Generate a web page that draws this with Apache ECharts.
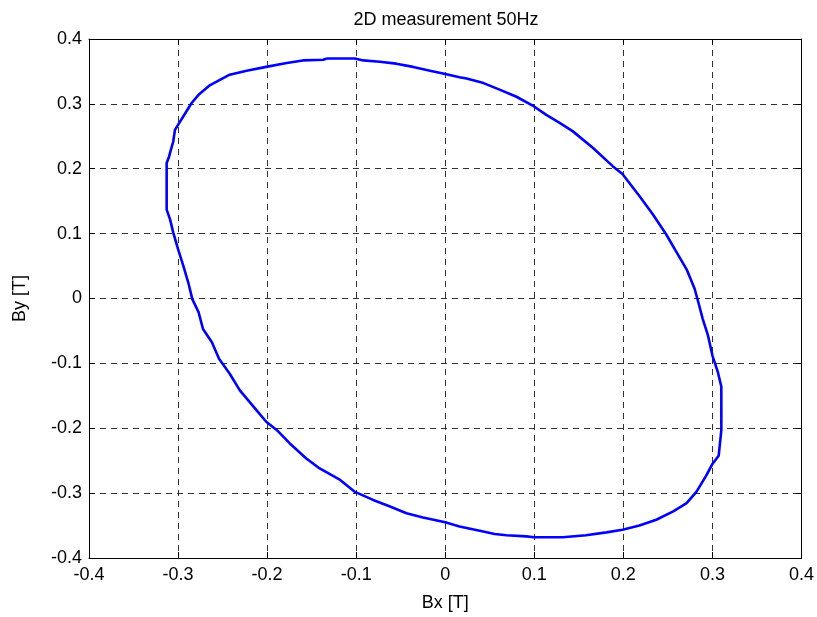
<!DOCTYPE html>
<html>
<head>
<meta charset="utf-8">
<title>2D measurement 50Hz</title>
<script src="https://cdn.jsdelivr.net/npm/echarts@6/dist/echarts.min.js"></script>
<style>
  html, body { margin: 0; padding: 0; background: #fff; }
  #chart { width: 817px; height: 617px; }
</style>
</head>
<body>
<div id="chart"></div>
<script>
// Measured flux density locus, Bx / By in tesla (one closed loop, clockwise from the top)
const bx = [
  -0.133, -0.1015, -0.092, -0.0735, -0.055, -0.036, -0.017, 0.000, 0.016, 0.024,
  0.043, 0.061, 0.080, 0.0997, 0.1135, 0.128, 0.143, 0.166, 0.188, 0.199,
  0.218, 0.233, 0.248, 0.259, 0.271, 0.280, 0.285, 0.289, 0.295, 0.300,
  0.306, 0.310, 0.310, 0.307, 0.300, 0.293, 0.282, 0.271, 0.256, 0.237,
  0.218, 0.199, 0.181, 0.158, 0.132, 0.0997, 0.091, 0.0687, 0.0555, 0.0387,
  0.016, 0.000, -0.025, -0.0435, -0.062, -0.081, -0.102, -0.118, -0.141, -0.156,
  -0.1745, -0.189, -0.201, -0.212, -0.2306, -0.242, -0.254, -0.262, -0.272, -0.277,
  -0.284, -0.2886, -0.294, -0.300, -0.3054, -0.309, -0.3128, -0.3128, -0.310, -0.309,
  -0.3054, -0.3035, -0.294, -0.285, -0.277, -0.264, -0.242, -0.223, -0.201, -0.178,
  -0.160, -0.137, -0.133
];
const by = [
  0.370, 0.370, 0.367, 0.365, 0.362, 0.357, 0.351, 0.346, 0.341, 0.339,
  0.332, 0.322, 0.311, 0.296, 0.283, 0.271, 0.258, 0.232, 0.204, 0.192,
  0.158, 0.130, 0.099, 0.073, 0.045, 0.015, -0.010, -0.031, -0.057, -0.088,
  -0.113, -0.136, -0.203, -0.2425, -0.255, -0.273, -0.298, -0.3155, -0.328, -0.341,
  -0.350, -0.3565, -0.3605, -0.365, -0.368, -0.368, -0.3667, -0.365, -0.363, -0.358,
  -0.3515, -0.345, -0.3375, -0.331, -0.3207, -0.3105, -0.2976, -0.2797, -0.262, -0.2465,
  -0.2234, -0.203, -0.190, -0.172, -0.1416, -0.116, -0.093, -0.0673, -0.047, -0.021,
  -0.001, 0.025, 0.050, 0.076, 0.1016, 0.122, 0.137, 0.209, 0.219, 0.2245,
  0.242, 0.260, 0.281, 0.301, 0.314, 0.329, 0.345, 0.351, 0.357, 0.363,
  0.367, 0.368, 0.370
];

// Axis range and tick step (T)
const axisMin = -0.4;
const axisMax = 0.4;
const axisStep = 0.1;

const titleText = '2D measurement 50Hz';
const xName = 'Bx [T]';
const yName = 'By [T]';

const FONT = '"Liberation Sans", Arial, sans-serif';
const tickFmt = v => {
  const r = Math.round(v * 10) / 10;
  return r === 0 ? '0' : String(r);
};

const locus = bx.map((x, i) => [x, by[i]]);

const gridLine = {
  show: true,
  lineStyle: { color: '#333', width: 1, type: [6, 5] }
};
const frame = { show: true, onZero: false, lineStyle: { color: '#000', width: 1 } };
const inTick = { show: true, inside: true, length: 6, lineStyle: { color: '#000' } };
const labelStyle = { color: '#000', fontFamily: FONT, fontSize: 18 };

const chart = echarts.init(document.getElementById('chart'), null, { renderer: 'canvas' });
chart.setOption({
  backgroundColor: '#fff',
  animation: false,
  title: {
    text: titleText,
    left: 441,
    top: 6,
    textAlign: 'center',
    textStyle: { color: '#000', fontFamily: FONT, fontSize: 18, fontWeight: 'normal' }
  },
  grid: { left: 89, right: 15, top: 39, bottom: 57, containLabel: false },
  xAxis: [
    {
      type: 'value', position: 'bottom',
      min: axisMin, max: axisMax, interval: axisStep,
      name: xName, nameLocation: 'middle', nameGap: 36,
      nameTextStyle: labelStyle,
      axisLine: frame, axisTick: inTick,
      axisLabel: Object.assign({ margin: 8, formatter: tickFmt }, labelStyle),
      splitLine: gridLine
    },
    {
      type: 'value', position: 'top',
      min: axisMin, max: axisMax, interval: axisStep,
      axisLine: frame, axisTick: inTick,
      axisLabel: { show: false }, splitLine: { show: false }
    }
  ],
  yAxis: [
    {
      type: 'value', position: 'left',
      min: axisMin, max: axisMax, interval: axisStep,
      name: yName, nameLocation: 'middle', nameGap: 60, nameRotate: 90,
      nameTextStyle: labelStyle,
      axisLine: frame, axisTick: inTick,
      axisLabel: Object.assign({ margin: 7, formatter: tickFmt }, labelStyle),
      splitLine: gridLine
    },
    {
      type: 'value', position: 'right',
      min: axisMin, max: axisMax, interval: axisStep,
      axisLine: frame, axisTick: inTick,
      axisLabel: { show: false }, splitLine: { show: false }
    }
  ],
  series: [
    {
      type: 'line',
      xAxisIndex: 0, yAxisIndex: 0,
      data: locus,
      showSymbol: false,
      smooth: false,
      clip: true,
      lineStyle: { color: '#0000ff', width: 2.6 }
    }
  ]
});
</script>
</body>
</html>
